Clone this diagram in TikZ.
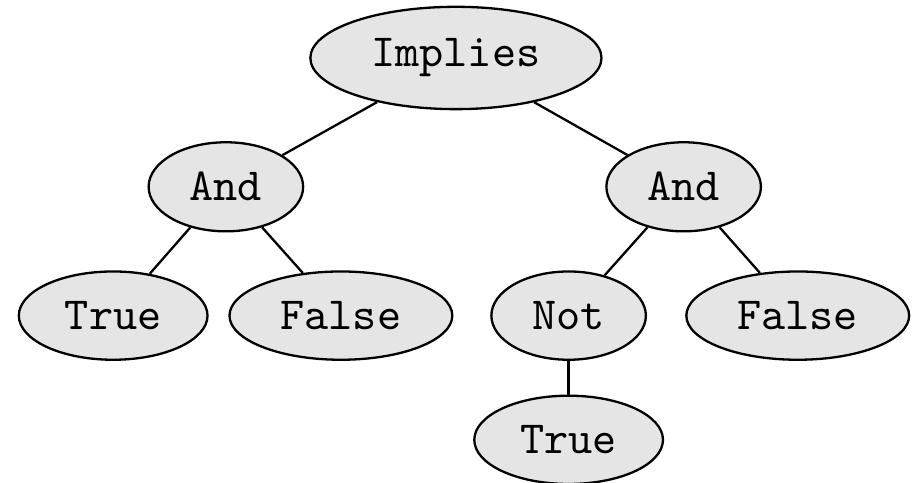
\documentclass[tikz,border=0pt]{standalone}
\usepackage{tikz}
\usetikzlibrary{shapes.geometric,positioning}

\begin{document}
\begin{tikzpicture}[node distance=28pt,on grid,line width=0.5pt,
        term/.style={ellipse,draw,fill=black!10,font=\ttfamily,inner xsep=4pt,inner ysep=3.7pt}]
        \useasboundingbox (-99.1pt,-92.2pt) rectangle (100pt,12.6pt);
        \node[term] (implies) {Implies};
        \node[term] (and_l) [below left=28pt and 50pt of implies] {And};
        \node[term] (and_r) [below right=28pt and 49.5pt of implies] {And};
        \node[term] (true_l) [below left=28pt and 24.5pt of and_l] {True};
        \node[term] (false_l) [below right=28pt and 25pt of and_l] {False};
        \node[term] (not) [below left=28pt and 25pt of and_r] {Not};
        \node[term] (false_r) [below right=28pt and 24.8pt of and_r] {False};
        \node[term] (true_b) [below=27pt of not] {True};
        \path
        (implies) edge (and_l)
        edge (and_r)
        (and_l) edge (true_l)
        edge (false_l)
        (and_r) edge (not)
        edge (false_r)
        (not) edge (true_b)
        ;
    \end{tikzpicture}
\end{document}
